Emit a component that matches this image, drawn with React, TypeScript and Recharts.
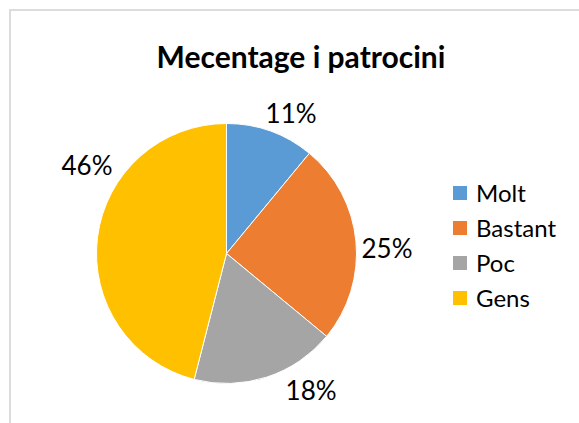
import { PieChart, Pie, Cell, Legend } from "recharts";

const TITLE = "Mecentage i patrocini";
const CATEGORIES = ["Molt", "Bastant", "Poc", "Gens"];
const VALUES = [11, 25, 18, 46];
const COLORS = ["#5B9BD5", "#ED7D31", "#A5A5A5", "#FFC000"];

// excel "best fit" label placement, nudged per slice
const LABEL_ANGLE_SHIFT = [-4.9, -3.3, 13.8, -25.2];
const LABEL_GAP = [24.6, 30.6, 30.5, 35.2];

const FONT = "Lato, 'Open Sans', sans-serif";
const RAD = Math.PI / 180;

const data = CATEGORIES.map((name, i) => ({ name, value: VALUES[i] }));

const renderLabel = (props: any) => {
  const { cx, cy, midAngle, outerRadius, index, value } = props;
  const a = (midAngle + LABEL_ANGLE_SHIFT[index]) * RAD;
  const r = outerRadius + LABEL_GAP[index];
  const x = cx + r * Math.cos(-a);
  const y = cy + r * Math.sin(-a);
  return (
    <text
      x={x}
      y={y}
      textAnchor="middle"
      dominantBaseline="central"
      fill="#000"
      fontSize={26}
      fontFamily={FONT}
    >
      {`${value}%`}
    </text>
  );
};

const renderLegend = (props: any) => {
  const payload = [...(props.payload || [])].sort(
    (a: any, b: any) =>
      CATEGORIES.indexOf(a.value) - CATEGORIES.indexOf(b.value)
  );
  return (
    <div style={{ fontFamily: FONT, fontSize: 24, color: "#000" }}>
      {payload.map((entry: any, i: number) => (
        <div
          key={i}
          style={{ display: "flex", alignItems: "center", height: 35 }}
        >
          <span
            style={{
              display: "inline-block",
              width: 14,
              height: 14,
              background: entry.color,
              marginRight: 9,
            }}
          />
          <span>{entry.value}</span>
        </div>
      ))}
    </div>
  );
};

const App: React.FC = () => {
  return (
    <div
      style={{
        position: "fixed",
        left: 0,
        top: 0,
        width: 579,
        height: 423,
        overflow: "hidden",
        background: "#fff",
      }}
    >
      <div
        style={{
          position: "absolute",
          left: 9,
          top: 9,
          width: 620,
          height: 450,
          border: "2px solid #dcdcdc",
        }}
      />
      <div
        style={{
          position: "absolute",
          left: 0,
          width: 602,
          top: 37,
          textAlign: "center",
          fontFamily: FONT,
          fontWeight: 700,
          fontSize: 30,
          lineHeight: "38px",
          color: "#000",
        }}
      >
        {TITLE}
      </div>
      <PieChart
        width={579}
        height={423}
        margin={{ top: 0, right: 0, bottom: 0, left: 0 }}
        style={{ position: "absolute", left: 0, top: 0 }}
      >
        <Pie
          data={data}
          dataKey="value"
          nameKey="name"
          cx={226.5}
          cy={253.5}
          outerRadius={130}
          startAngle={90}
          endAngle={-270}
          stroke="#fff"
          strokeWidth={1}
          label={renderLabel}
          labelLine={false}
          isAnimationActive={false}
        >
          {data.map((d, i) => (
            <Cell key={d.name} fill={COLORS[i]} />
          ))}
        </Pie>
        <Legend
          layout="vertical"
          align="right"
          verticalAlign="top"
          content={renderLegend}
          wrapperStyle={{ left: 453, top: 175, width: 130 }}
        />
      </PieChart>
    </div>
  );
};

export default App;
